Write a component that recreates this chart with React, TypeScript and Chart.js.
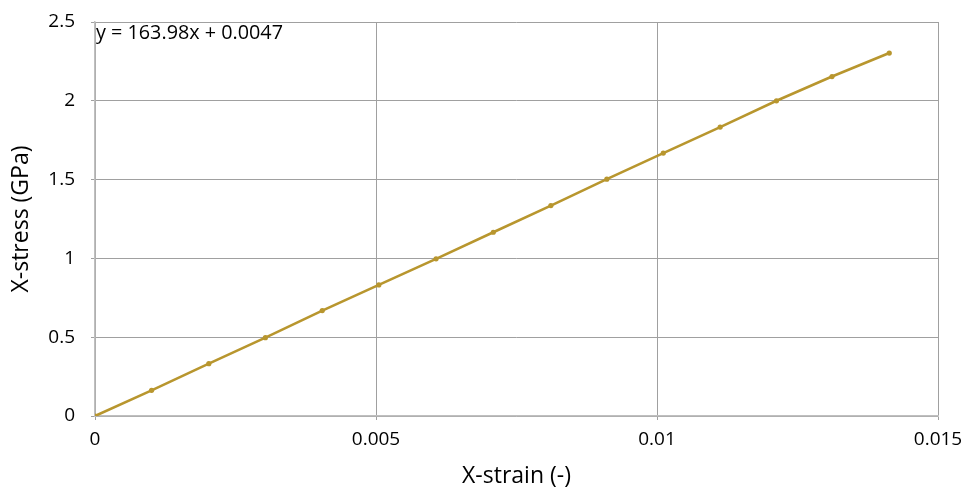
import React, { useEffect, useRef } from "react";
import { Chart, registerables } from "chart.js";

Chart.register(...registerables);

const xStrain = [0, 0.001007, 0.002025, 0.003032, 0.004044, 0.00505, 0.006069, 0.007087, 0.008112, 0.009107, 0.010112, 0.011124, 0.012126, 0.013114, 0.014133];
const yStress = [0, 0.163, 0.332, 0.497, 0.669, 0.832, 0.997, 1.166, 1.335, 1.503, 1.668, 1.833, 2.0, 2.154, 2.303];
const equationLabel = "y = 163.98x + 0.0047";
const xTitle = "X-strain (-)";
const yTitle = "X-stress (GPa)";

const FONT = "'Open Sans', 'DejaVu Sans', sans-serif";
const LINE_COLOR = "#B8962E";

const fmt = (v: number) => String(Number(Number(v).toFixed(4)));

const equationPlugin = {
  id: "equationLabel",
  afterDraw(chart: any) {
    const { ctx, chartArea } = chart;
    ctx.save();
    ctx.font = `19.8px ${FONT}`;
    ctx.fillStyle = "#000";
    ctx.textAlign = "left";
    ctx.textBaseline = "alphabetic";
    ctx.fillText(equationLabel, chartArea.left + 1, chartArea.top + 17);
    ctx.restore();
  },
};

export default function App() {
  const ref = useRef<HTMLCanvasElement | null>(null);

  useEffect(() => {
    if (!ref.current) return;
    const chart = new Chart(ref.current, {
      type: "line",
      data: {
        datasets: [
          {
            data: xStrain.map((x, i) => ({ x, y: yStress[i] })),
            borderColor: LINE_COLOR,
            backgroundColor: LINE_COLOR,
            borderWidth: 2.6,
            pointRadius: 2.6,
            pointBackgroundColor: LINE_COLOR,
            pointBorderColor: LINE_COLOR,
            pointBorderWidth: 0,
            tension: 0,
            fill: false,
          },
        ],
      },
      options: {
        responsive: false,
        animation: false,
        layout: { padding: { top: 22, right: 27, left: 0, bottom: 0 } },
        plugins: {
          legend: { display: false },
          tooltip: { enabled: false },
        },
        scales: {
          x: {
            type: "linear",
            min: 0,
            max: 0.015,
            afterFit(scale: any) {
              scale.height = 72;
              scale.paddingLeft = 0;
              scale.paddingRight = 0;
            },
            ticks: {
              stepSize: 0.005,
              callback: (v: any) => fmt(v),
              color: "#000",
              font: { family: FONT, size: 19 },
              padding: 8,
              maxRotation: 0,
            },
            grid: {
              color: "#a0a0a0",
              lineWidth: 1,
              tickLength: 4,
              drawTicks: true,
            },
            border: { color: "#bfbfbf", width: 1.5 },
            title: {
              display: true,
              text: xTitle,
              color: "#000",
              font: { family: FONT, size: 23, lineHeight: 1 },
              padding: { top: 0, bottom: 0 },
            },
          },
          y: {
            type: "linear",
            min: 0,
            max: 2.5,
            afterFit(scale: any) {
              scale.width = 95;
              scale.paddingTop = 0;
              scale.paddingBottom = 0;
            },
            ticks: {
              stepSize: 0.5,
              callback: (v: any) => fmt(v),
              color: "#000",
              font: { family: FONT, size: 19 },
              padding: 16,
            },
            grid: {
              color: "#a0a0a0",
              lineWidth: 1,
              tickLength: 4,
              drawTicks: true,
            },
            border: { color: "#bfbfbf", width: 1.5 },
            title: {
              display: true,
              text: yTitle,
              color: "#000",
              font: { family: FONT, size: 23, lineHeight: 1 },
              padding: { top: 10, bottom: 0 },
            },
          },
        },
      },
      plugins: [equationPlugin],
    } as any);
    return () => chart.destroy();
  }, []);

  return (
    <div style={{ position: "fixed", left: 0, top: 0, width: 965, height: 488, background: "#fff" }}>
      <canvas ref={ref} width={965} height={488} style={{ display: "block" }} />
    </div>
  );
}
